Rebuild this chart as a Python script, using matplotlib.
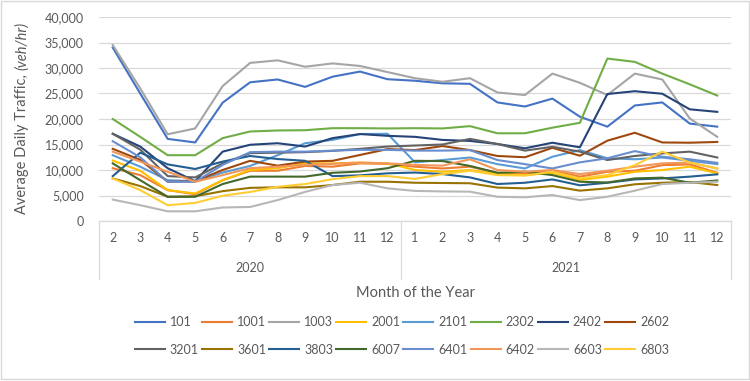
import matplotlib
matplotlib.use('Agg')
import matplotlib.pyplot as plt
from matplotlib.transforms import blended_transform_factory
from matplotlib.patches import Rectangle
from matplotlib.lines import Line2D

plt.rcParams['font.family'] = ['Lato', 'DejaVu Sans']

# ---- data ----
months = ['2', '3', '4', '5', '6', '7', '8', '9', '10', '11', '12',
          '1', '2', '3', '4', '5', '6', '7', '8', '9', '10', '11', '12']
years = ['2020', '2021']
year_first = [0, 11]
year_last = [10, 22]

s101 = [34000, 25000, 16100, 15400, 23200, 27200, 27750, 26300, 28300, 29300, 27800,
        27500, 27000, 26900, 23250, 22450, 24000, 20450, 18500, 22650, 23250, 19100, 18500]
s1001 = [10350, 9000, 6050, 5250, 8000, 9850, 9850, 10800, 10650, 11300, 11200,
         10650, 10300, 10650, 9450, 9350, 9850, 8700, 9650, 9850, 10950, 11100, 9450]
s1003 = [34500, 26000, 17000, 18150, 26450, 31000, 31500, 30250, 30900, 30400, 29200,
         28000, 27300, 28000, 25200, 24700, 28900, 27100, 24700, 28900, 27750, 20100, 16500]
s2001 = [11850, 9850, 6050, 5400, 8000, 10000, 10350, 11300, 11300, 11450, 11300,
         10000, 9650, 10000, 9200, 9000, 9450, 8050, 8700, 9650, 10000, 10650, 9350]
s2101 = [12900, 10650, 8000, 7800, 9500, 10800, 12900, 15250, 15900, 17050, 17100,
         11500, 11950, 12450, 11150, 10300, 12600, 13900, 12300, 12100, 12450, 11800, 11150]
s2302 = [20000, 16500, 12900, 12900, 16250, 17550, 17750, 17800, 18200, 18200, 18150,
         18200, 18150, 18600, 17200, 17200, 18300, 19250, 31850, 31200, 28900, 26800, 24600]
s2402 = [17100, 14600, 10350, 7800, 13600, 14950, 15250, 14600, 16250, 17050, 16700,
         16500, 15900, 15700, 15100, 14250, 15350, 14450, 24900, 25450, 24950, 21900, 21400]
s2602 = [14150, 12000, 7700, 7800, 10000, 11800, 10850, 11650, 11800, 12950, 14100,
         13900, 14700, 13900, 12750, 12500, 14350, 12800, 15750, 17300, 15400, 15350, 15500]
s3201 = [17100, 14000, 8800, 8550, 11300, 13300, 13400, 13500, 13750, 14150, 14600,
         14800, 15000, 16100, 15100, 13800, 14550, 13600, 11950, 12750, 13250, 13600, 12450]
s3601 = [8350, 6850, 4750, 4850, 5850, 6500, 6600, 6600, 7050, 7700, 7700,
         7500, 7450, 7400, 6550, 6400, 6850, 5950, 6400, 7200, 7500, 7650, 7050]
s3803 = [8800, 13400, 11100, 10200, 11650, 12750, 12150, 11800, 8800, 8950, 9350,
         9500, 9200, 8550, 7250, 7500, 8150, 7000, 7500, 8150, 8350, 8700, 9150]
s6007 = [11300, 8000, 4750, 4750, 7250, 8700, 8700, 8700, 9450, 9700, 10350,
         11800, 11750, 10800, 9450, 9650, 9000, 7700, 7550, 8350, 8500, 7500, 7950]
s6401 = [15650, 12500, 7700, 7700, 11000, 13500, 13600, 13600, 13800, 13950, 13950,
         13800, 13800, 13900, 11950, 11150, 10300, 11500, 12300, 13700, 12600, 12100, 11400]
s6402 = [13600, 11650, 9650, 7700, 9000, 10350, 10650, 11000, 11200, 11450, 11300,
         11000, 10850, 12100, 10000, 9650, 10000, 9200, 9850, 10650, 11300, 11450, 10300]
s6603 = [4200, 3100, 1900, 1900, 2650, 2750, 4100, 5700, 7050, 7500, 6400,
         5900, 5800, 5750, 4750, 4650, 5100, 4100, 4750, 5950, 7250, 7500, 7700]
s6803 = [8350, 6050, 3100, 3550, 4950, 5700, 6700, 7250, 8200, 8800, 8800,
         8250, 9200, 9850, 9000, 8900, 9650, 8350, 9000, 10950, 13600, 11450, 10300]

names = ['101', '1001', '1003', '2001', '2101', '2302', '2402', '2602',
         '3201', '3601', '3803', '6007', '6401', '6402', '6603', '6803']
values = [s101, s1001, s1003, s2001, s2101, s2302, s2402, s2602,
          s3201, s3601, s3803, s6007, s6401, s6402, s6603, s6803]
colors = ['#4472C4', '#ED7D31', '#A5A5A5', '#FFC000', '#5B9BD5', '#70AD47', '#264478', '#9E480E',
          '#636363', '#997300', '#255E91', '#43682B', '#698ED0', '#F1975A', '#B7B7B7', '#FFCD33']

TXT = '#595959'
GRID = '#D9D9D9'
W, H = 750, 381

fig = plt.figure(figsize=(W / 100, H / 100), dpi=100)
ax = fig.add_axes([99 / W, 1 - 221 / H, 632 / W, 204 / H])

x = list(range(len(months)))
for name, vals, col in zip(names, values, colors):
    ax.plot(x, vals, color=col, lw=1.5, label=name)

ax.set_xlim(-0.5, len(months) - 0.5)
ax.set_ylim(0, 40000)
yt = list(range(0, 40001, 5000))
ax.set_yticks(yt)
ax.set_yticklabels([f'{v:,}' for v in yt])
ax.yaxis.grid(True, color=GRID, lw=0.9)
ax.set_axisbelow(True)
for sp in ['top', 'left', 'right']:
    ax.spines[sp].set_visible(False)
ax.spines['bottom'].set_color(GRID)
ax.spines['bottom'].set_linewidth(0.9)
ax.tick_params(axis='y', length=0, pad=11, labelsize=9, labelcolor=TXT)
ax.set_xticks(x)
ax.set_xticklabels(months)
ax.tick_params(axis='x', length=0, pad=8, labelsize=9, labelcolor=TXT)

tr = blended_transform_factory(ax.transData, ax.transAxes)
for yr, a, b in zip(years, year_first, year_last):
    ax.text((a + b) / 2, -0.232, yr, transform=tr, ha='center', va='center',
            fontsize=9, color=TXT)
for xp in [-0.5, 10.5, 22.5]:
    ax.add_line(Line2D([xp, xp], [0, -0.285], transform=tr, color=GRID, lw=0.9,
                       clip_on=False))

fig.text(415 / W, 1 - 293 / H, 'Month of the Year', ha='center', va='center',
         fontsize=10.5, color=TXT)

t1 = fig.text(22 / W, 1 - 214 / H, 'Average Daily Traffic,', rotation=90,
              ha='center', va='bottom', fontsize=10.5, color=TXT)
fig.add_artist(plt.Annotation('(veh/hr)', xy=(0.5, 1), xycoords=t1,
                              xytext=(0, 3), textcoords='offset points',
                              rotation=90, ha='center', va='bottom',
                              fontsize=10.5, fontstyle='italic', color=TXT))

# legend: Excel fills row by row, matplotlib column by column -> reorder
h, l = ax.get_legend_handles_labels()
ncol = 8
order = []
for c in range(ncol):
    order += [c, c + ncol]
fig.legend([h[i] for i in order], [l[i] for i in order], ncol=ncol, loc='center',
           bbox_to_anchor=(402 / W, 1 - 336 / H),
           frameon=False, fontsize=9, handlelength=2.4, handletextpad=0.4,
           columnspacing=0.25, labelspacing=1.25, labelcolor=TXT)

fig.add_artist(Rectangle((0.5 / W, 1 - 379 / H), 748 / W, 378.5 / H,
                         transform=fig.transFigure, fill=False,
                         edgecolor=GRID, lw=1))

fig.savefig('out.png', dpi=100)
